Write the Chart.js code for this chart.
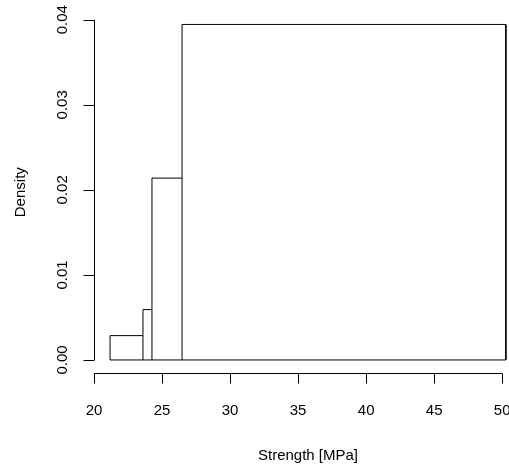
<!DOCTYPE html>
<html>
<head>
<meta charset="utf-8">
<script src="https://cdn.jsdelivr.net/npm/chart.js@4/dist/chart.umd.min.js"></script>
<style>
  html, body { margin: 0; padding: 0; background: #fff; }
  canvas { display: block; }
</style>
</head>
<body>
<canvas id="histChart" width="509" height="466"></canvas>
<script>
// histogram bins (unequal widths) and their densities
const breaks = [21.18, 23.6, 24.26, 26.47, 50.27];
const densities = [0.00286, 0.00592, 0.02138, 0.03945];

const xTicks = [20, 25, 30, 35, 40, 45, 50];
const yTicks = [0, 0.01, 0.02, 0.03, 0.04];
const yTickLabels = ['0.00', '0.01', '0.02', '0.03', '0.04'];

const xTitle = 'Strength [MPa]';
const yTitle = 'Density';

const inkColor = '#000';
const fontSpec = "15px 'Liberation Sans', Arial, sans-serif";

// outer step outline of the histogram, every edge drawn once
const outline = [{ x: breaks[0], y: 0 }];
densities.forEach((d, i) => {
    outline.push({ x: breaks[i], y: d });
    outline.push({ x: breaks[i + 1], y: d });
});
outline.push({ x: breaks[breaks.length - 1], y: 0 });
outline.push({ x: breaks[0], y: 0 });

// lower part of the shared inner edges (gaps split them)
const innerEdges = [];
for (let i = 1; i < densities.length; i++) {
    innerEdges.push({ x: breaks[i], y: 0 });
    innerEdges.push({ x: breaks[i], y: Math.min(densities[i - 1], densities[i]) });
    innerEdges.push({ x: breaks[i], y: null });
}

const lineStyle = {
    showLine: true,
    borderColor: inkColor,
    borderWidth: 1,
    pointRadius: 0,
    fill: false,
    tension: 0,
    spanGaps: false
};

// R-style axes drawn next to the plot region
const baseAxes = {
    id: 'baseAxes',
    afterDraw(chart) {
        const { ctx, chartArea, scales: { x, y } } = chart;
        ctx.save();
        ctx.strokeStyle = inkColor;
        ctx.fillStyle = inkColor;
        ctx.lineWidth = 1;
        ctx.font = fontSpec;

        // y axis
        const ax = Math.round(chartArea.left) + 0.5;
        ctx.beginPath();
        ctx.moveTo(ax, y.getPixelForValue(yTicks[0]));
        ctx.lineTo(ax, y.getPixelForValue(yTicks[yTicks.length - 1]));
        yTicks.forEach(v => {
            const py = Math.round(y.getPixelForValue(v)) + 0.5;
            ctx.moveTo(ax, py);
            ctx.lineTo(ax - 11, py);
        });
        ctx.stroke();
        ctx.textAlign = 'center';
        ctx.textBaseline = 'alphabetic';
        yTicks.forEach((v, i) => {
            ctx.save();
            ctx.translate(67, y.getPixelForValue(v));
            ctx.rotate(-Math.PI / 2);
            ctx.fillText(yTickLabels[i], 0, 0);
            ctx.restore();
        });

        // x axis
        const ay = Math.round(chartArea.bottom) + 0.5;
        ctx.beginPath();
        ctx.moveTo(x.getPixelForValue(xTicks[0]), ay);
        ctx.lineTo(x.getPixelForValue(xTicks[xTicks.length - 1]), ay);
        xTicks.forEach(v => {
            const px = Math.round(x.getPixelForValue(v)) + 0.5;
            ctx.moveTo(px, ay);
            ctx.lineTo(px, ay + 10);
        });
        ctx.stroke();
        xTicks.forEach(v => {
            ctx.fillText(String(v), x.getPixelForValue(v), 415);
        });

        // axis titles
        ctx.fillText(xTitle, 308, 460);
        ctx.save();
        ctx.translate(25, (chartArea.top + chartArea.bottom) / 2);
        ctx.rotate(-Math.PI / 2);
        ctx.fillText(yTitle, 0, 0);
        ctx.restore();

        ctx.restore();
    }
};

const ctx = document.getElementById('histChart').getContext('2d');
new Chart(ctx, {
    type: 'scatter',
    data: {
        datasets: [
            { ...lineStyle, data: outline },
            { ...lineStyle, data: innerEdges }
        ]
    },
    options: {
        responsive: false,
        animation: false,
        layout: { padding: { left: 94, right: 0, top: 11, bottom: 92.6 } },
        plugins: {
            legend: { display: false },
            tooltip: { enabled: false }
        },
        scales: {
            x: { type: 'linear', display: false, min: 20, max: 50.5 },
            y: { type: 'linear', display: false, min: -0.00158, max: 0.04103 }
        }
    },
    plugins: [baseAxes]
});
</script>
</body>
</html>
